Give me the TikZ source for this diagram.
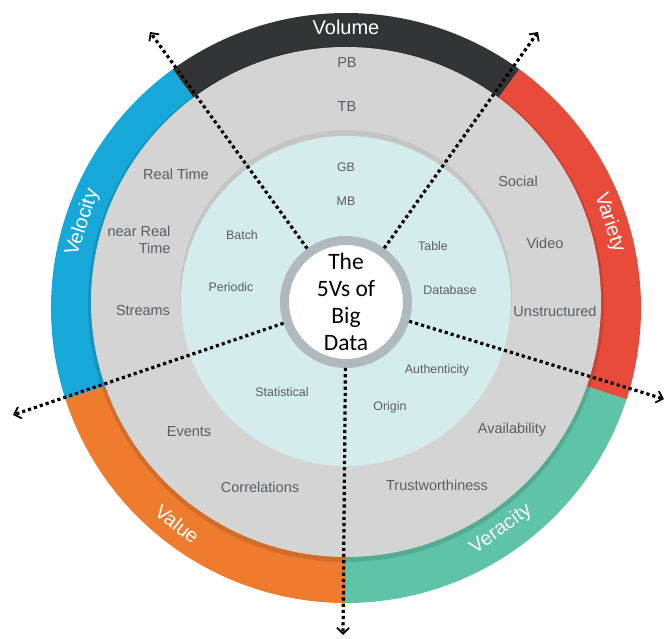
\documentclass[tikz,border=0pt]{standalone}
\usepackage{fontspec}
\setmainfont{Liberation Sans}
\newfontfamily\calibri{Carlito}
\usepackage{tikz}
\usetikzlibrary{positioning}
\usetikzlibrary{arrows.meta}
\definecolor{volumec}{HTML}{333436}
\definecolor{velocityc}{HTML}{17A8DA}
\definecolor{varietyc}{HTML}{E94B3B}
\definecolor{veracityc}{HTML}{5FC3A8}
\definecolor{valuec}{HTML}{EF7B2F}
\definecolor{ringgray}{HTML}{D4D4D4}
\definecolor{corecyan}{HTML}{D5ECEC}
\definecolor{labelgray}{HTML}{5A5E62}
\definecolor{rimgray}{HTML}{B0B9BD}

\begin{document}
\begin{tikzpicture}[x=1pt, y=1pt,
  band/.style = {text=white, font=\fontsize{20}{20}\selectfont},
  outer/.style = {text=labelgray, font=\fontsize{14.5}{16.5}\selectfont},
  inner/.style = {text=labelgray, font=\fontsize{12.4}{14}\selectfont},
  hub/.style = {circle, draw=rimgray, line width=9pt, fill=white, minimum size=123pt, inner sep=0pt, align=center, font=\calibri\fontsize{23.5}{27}\selectfont},
  ray/.style = {line width=3.2pt, dash pattern=on 3.2pt off 3pt, -{Straight Barb[length=6pt, width=12pt, line width=1.8pt]}}]
          \useasboundingbox (-346,-331) rectangle (321,308);
          % outer ring of the five Vs
          \foreach \a/\c in {54/volumec, 126/velocityc, 198/valuec, 270/veracityc, 342/varietyc}
            \fill[\c] (0,0) -- (\a:295) arc[start angle=\a, delta angle=72, radius=295] -- cycle;
          \fill[black, opacity=.12] (0,4) circle[radius=258];
          \fill[ringgray] (0,6) circle[radius=255];
          \fill[black, opacity=.07] (0,12) circle[radius=166];
          \fill[corecyan] (0,7) circle[radius=165];
          \node[band] (volume) at (90:281) {Volume};
          \node[band, rotate=72] (velocity) at (162:277) {Velocity};
          \node[band, rotate=-72] (variety) at (18:277) {Variety};
          \node[band, rotate=-38] (value) at (232:274) {Value};
          \node[band, rotate=36] (veracity) at (305:270) {Veracity};
          % gray ring
          \node[outer] (pb) at (1,245) {PB};
          \node[outer] (tb) [below of=pb, node distance=44pt] {TB};
          \node[outer] (realtime) at (-170,134) {Real Time};
          \node[outer, align=right, anchor=east] (nearreal) at (-172,68) {near Real\\Time};
          \node[outer] (streams) at (-203,-3) {Streams};
          \node[outer] (social) at (172,127) {Social};
          \node[outer] (video) at (199,65) {Video};
          \node[outer] (unstructured) at (209,-3) {Unstructured};
          \node[outer] (availability) at (166,-122) {Availability};
          \node[outer] (trust) at (91,-177) {Trustworthiness};
          \node[outer] (correlations) at (-86,-179) {Correlations};
          \node[outer] (events) at (-157,-124) {Events};
          % cyan disc
          \node[inner] (gb) at (0,141) {GB};
          \node[inner] (mb) [below of=gb, node distance=34pt] {MB};
          \node[inner] (batch) at (-104,73) {Batch};
          \node[inner] (periodic) at (-115,21) {Periodic};
          \node[inner] (table) at (87,62) {Table};
          \node[inner] (database) at (104,18) {Database};
          \node[inner] (authenticity) at (91,-62) {Authenticity};
          \node[inner] (origin) at (44,-99) {Origin};
          \node[inner] (statistical) at (-64,-84) {Statistical};
          % hub and rays
          \node[hub] (hub) at (0,6) {The\\5Vs of\\Big\\Data};
          \coordinate (ne) at (192,276);
          \coordinate (nw) at (-196,276);
          \coordinate (w) at (-333,-107);
          \coordinate (s) at (-3,-327);
          \coordinate (e) at (318,-91);
          \draw[ray] (hub) -- (ne);
          \draw[ray] (hub) -- (nw);
          \draw[ray] (hub) -- (w);
          \draw[ray] (hub) -- (s);
          \draw[ray] (hub) -- (e);
        \end{tikzpicture}
\end{document}
